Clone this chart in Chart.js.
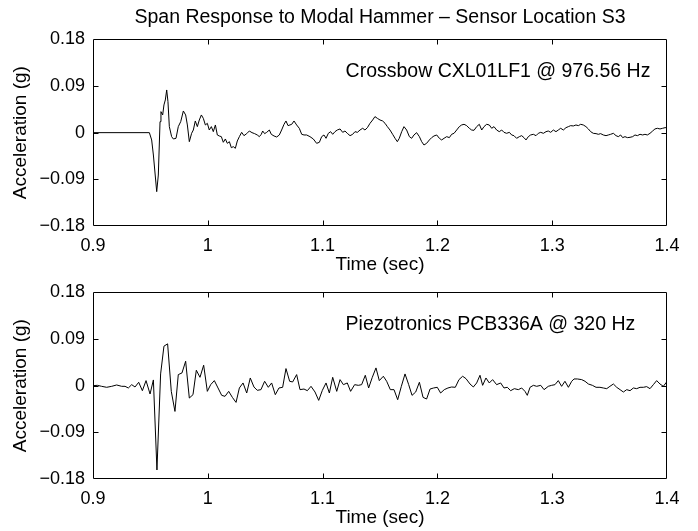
<!DOCTYPE html>
<html><head><meta charset="utf-8">
<script src="https://cdn.jsdelivr.net/npm/chart.js@4/dist/chart.umd.min.js"></script>
<style>
html,body{margin:0;padding:0;background:#fff;}
#wrap{position:relative;width:698px;height:531px;overflow:hidden;}
canvas{position:absolute;left:0;top:0;}
</style></head><body>
<div id="wrap"><canvas id="c1" width="698" height="531"></canvas><canvas id="c2" width="698" height="531"></canvas></div>
<script>
const chartTitle = 'Span Response to Modal Hammer \u2013 Sensor Location S3';
const xAxisTitle = 'Time (sec)';
const yAxisTitle = 'Acceleration (g)';
const xTicks = [0.9, 1.0, 1.1, 1.2, 1.3, 1.4];
const xTickLabels = ['0.9', '1', '1.1', '1.2', '1.3', '1.4'];
const yTicks = [-0.18, -0.09, 0, 0.09, 0.18];
const yTickLabels = ['\u22120.18', '\u22120.09', '0', '0.09', '0.18'];
const topLabel = 'Crossbow CXL01LF1 @ 976.56 Hz';
const bottomLabel = 'Piezotronics PCB336A @ 320 Hz';

// Top sensor: Crossbow CXL01LF1 (time in s, acceleration in g)
const topTime = [
0.9000,0.9491,0.9511,0.9526,0.9555,0.9569,0.9584,0.9592,0.9607,0.9618,0.9630,0.9642,0.9653,0.9665,0.9685,0.9700,0.9723,0.9743,0.9764,0.9787,
0.9807,0.9822,0.9839,0.9859,0.9874,0.9891,0.9909,0.9926,0.9944,0.9961,0.9979,0.9996,1.0013,1.0031,1.0048,1.0066,1.0083,1.0100,1.0118,1.0135,
1.0153,1.0170,1.0188,1.0205,1.0222,1.0240,1.0257,1.0275,1.0295,1.0315,1.0339,1.0362,1.0385,1.0408,1.0431,1.0449,1.0466,1.0478,1.0495,1.0513,
1.0536,1.0553,1.0577,1.0600,1.0623,1.0643,1.0664,1.0681,1.0699,
1.0731,1.0751,1.0774,1.0797,1.0818,1.0838,1.0861,1.0890,1.0919,1.0948,1.0972,1.0992,1.1012,1.1030,1.1050,1.1070,1.1088,1.1108,1.1128,1.1152,
1.1175,1.1195,1.1215,1.1239,1.1262,1.1282,1.1303,1.1326,1.1349,1.1369,1.1390,1.1413,1.1436,1.1456,1.1477,1.1500,1.1523,1.1544,1.1564,1.1587,
1.1610,1.1631,1.1651,1.1668,1.1689,1.1709,1.1732,1.1756,1.1776,1.1796,1.1819,1.1843,1.1863,1.1883,1.1906,1.1930,1.1950,1.1970,1.1994,1.2017,
1.2037,1.2058,1.2081,1.2104,1.2124,1.2145,1.2168,1.2191,1.2211,1.2232,1.2255,1.2278,1.2298,1.2319,1.2342,1.2365,
1.2386,1.2406,1.2429,1.2452,1.2473,1.2493,1.2516,1.2539,1.2560,1.2580,1.2603,1.2627,1.2647,1.2667,1.2690,1.2714,1.2734,1.2754,1.2772,1.2792,
1.2812,1.2836,1.2859,1.2879,1.2900,1.2923,1.2946,1.2966,1.2987,1.3010,1.3033,1.3053,1.3074,1.3097,1.3120,1.3141,1.3161,1.3184,1.3207,1.3228,
1.3248,1.3271,1.3294,1.3315,1.3335,1.3358,1.3382,1.3402,1.3422,1.3445,1.3469,1.3489,1.3509,1.3533,1.3556,1.3576,1.3596,1.3614,1.3634,1.3655,
1.3678,1.3701,1.3721,1.3742,1.3765,1.3788,1.3808,1.3829,1.3852,1.3875,1.3895,1.3916,1.3939,1.3962,1.3983,1.4000
];
const topAccel = [
0,0,-0.0141,-0.0431,-0.1138,-0.0817,0.0212,0.0405,0.0341,0.0534,0.0630,0.0823,0.0598,0.0116,-0.0077,-0.0122,-0.0109,0.0116,0.0212,0.0418,
0.0341,0.0148,-0.0174,-0.0013,0.0051,0.0225,0.0116,0.0244,0.0341,0.0276,0.0148,0.0180,0.0051,0.0116,0.0019,0.0148,-0.0045,-0.0064,-0.0077,-0.0186,
-0.0122,-0.0206,-0.0174,-0.0290,-0.0270,-0.0302,-0.0161,-0.0077,0.0006,-0.0058,-0.0019,0.0032,0,-0.0019,-0.0045,-0.0077,-0.0032,0.0032,-0.0019,0.0006,
0.0051,-0.0032,-0.0064,-0.0084,-0.0045,0.0051,0.0161,0.0225,0.0135,
0.0161,0.0225,0.0148,0.0084,-0.0032,-0.0045,-0.0045,-0.0077,-0.0122,-0.0206,-0.0186,-0.0077,-0.0045,-0.0109,-0.0013,0.0019,-0.0032,0.0019,0.0051,0.0071,
0.0006,0.0032,-0.0013,-0.0058,-0.0032,0.0019,0.0006,0.0051,0.0084,0.0051,0.0096,0.0180,0.0244,0.0309,0.0276,0.0244,0.0225,0.0180,0.0116,0.0051,
-0.0032,-0.0109,-0.0174,-0.0109,0.0019,0.0116,0.0051,-0.0077,-0.0109,-0.0045,0,-0.0077,-0.0174,-0.0238,-0.0206,-0.0141,-0.0096,-0.0064,-0.0045,-0.0109,
-0.0141,-0.0109,-0.0077,-0.0096,-0.0032,-0.0013,0.0051,0.0116,0.0148,0.0161,0.0135,0.0084,0.0051,0.0045,0.0116,0.0161,
0.0051,0.0116,0.0161,0.0148,0.0084,0.0116,0.0051,0.0019,0.0051,0.0006,-0.0013,0.0006,-0.0045,-0.0058,-0.0109,-0.0077,-0.0058,-0.0096,-0.0141,-0.0077,
-0.0045,-0.0032,-0.0058,-0.0013,0.0006,-0.0013,0.0019,0.0032,0.0006,0.0051,0.0019,0.0051,0.0084,0.0051,0.0096,0.0116,0.0135,0.0129,0.0148,0.0135,
0.0161,0.0148,0.0116,0.0071,0.0019,-0.0013,-0.0019,-0.0032,-0.0019,-0.0045,-0.0058,-0.0045,-0.0032,-0.0013,-0.0058,-0.0077,-0.0045,-0.0096,-0.0077,-0.0096,
-0.0090,-0.0077,-0.0045,-0.0058,-0.0032,-0.0045,-0.0032,-0.0045,-0.0013,0.0032,0.0071,0.0084,0.0071,0.0084,0.0096,0.0096
];

// Bottom sensor: Piezotronics PCB336A (time in s, acceleration in g)
const bottomTime = [
0.9000,0.9038,0.9075,0.9119,0.9163,0.9206,0.9250,0.9279,0.9308,0.9337,0.9366,0.9398,0.9430,0.9462,0.9497,0.9526,0.9557,0.9589,0.9618,0.9650,
0.9682,0.9714,0.9743,0.9775,0.9807,0.9839,0.9871,0.9900,0.9932,0.9964,0.9996,1.0025,1.0057,1.0089,1.0121,1.0150,1.0182,1.0214,1.0246,1.0275,
1.0307,1.0339,1.0370,1.0402,1.0431,1.0463,1.0495,1.0527,1.0556,1.0588,1.0620,1.0652,1.0681,1.0713,
1.0739,1.0774,1.0803,1.0838,1.0867,1.0899,1.0934,1.0966,1.0998,1.1030,1.1059,1.1088,1.1123,1.1152,1.1181,1.1215,1.1244,1.1279,1.1311,1.1340,
1.1372,1.1401,1.1433,1.1465,1.1494,1.1529,1.1558,1.1590,1.1622,1.1654,1.1686,1.1718,1.1750,1.1779,1.1811,1.1843,1.1875,1.1906,1.1936,1.1967,
1.1999,1.2028,1.2060,1.2092,1.2124,1.2156,1.2188,1.2220,1.2249,1.2284,1.2313,1.2342,1.2371,
1.2394,1.2423,1.2452,1.2481,1.2516,1.2551,1.2580,1.2609,1.2638,1.2670,1.2705,1.2734,1.2763,1.2783,1.2807,1.2836,1.2865,1.2900,1.2929,1.2966,
1.2995,1.3024,1.3053,1.3082,1.3111,1.3141,1.3170,1.3190,1.3219,1.3257,1.3286,1.3315,1.3350,1.3382,1.3416,1.3445,1.3475,1.3503,1.3533,1.3562,
1.3591,1.3620,1.3649,1.3678,1.3707,1.3736,1.3765,1.3794,1.3823,1.3852,1.3881,1.3910,1.3939,1.3968,1.3997
];
const bottomAccel = [
0,0.0006,-0.0013,-0.0032,-0.0013,0.0013,-0.0013,-0.0013,-0.0045,0.0019,-0.0026,0.0065,-0.0097,0.0097,-0.0161,0.0110,-0.1626,0.0226,0.0761,0.0806,
-0.0110,-0.0497,0.0213,0.0245,0.0471,-0.0239,-0.0174,0.0297,0.0161,0.0394,-0.0110,0.0019,0.0097,-0.0045,-0.0187,-0.0206,-0.0110,-0.0226,-0.0323,-0.0045,
0.0052,-0.0142,0.0148,-0.0026,-0.0090,-0.0077,0.0084,-0.0032,0.0052,-0.0174,-0.0045,-0.0032,0.0329,0.0084,
0.0071,0.0213,-0.0077,-0.0065,-0.0097,-0.0013,-0.0123,-0.0284,-0.0090,0.0052,-0.0142,0.0161,-0.0110,0.0116,0.0019,0.0052,-0.0110,0.0019,0.0006,0.0019,
0.0200,-0.0045,0.0161,0.0342,0.0097,0.0181,0.0084,-0.0077,-0.0077,-0.0271,-0.0013,0.0226,0.0019,-0.0187,-0.0123,0.0065,-0.0226,-0.0258,-0.0065,-0.0045,
-0.0032,-0.0142,-0.0077,-0.0045,-0.0026,-0.0032,0.0116,0.0181,0.0135,0.0032,-0.0026,0.0052,0.0200,
0.0006,0.0148,0.0052,0.0116,0.0019,0.0052,-0.0045,-0.0032,-0.0097,-0.0058,-0.0077,-0.0045,-0.0110,-0.0187,-0.0032,0.0006,-0.0013,0.0006,-0.0077,-0.0013,
0.0006,0.0019,0.0097,-0.0013,0.0084,-0.0032,0.0084,0.0129,0.0129,0.0116,0.0084,0.0032,0.0006,-0.0032,-0.0032,-0.0045,-0.0058,-0.0013,0.0032,-0.0032,
-0.0077,-0.0123,-0.0077,-0.0097,-0.0045,-0.0058,-0.0032,-0.0032,-0.0019,-0.0058,0.0019,0.0097,0.0032,-0.0013,0.0071
];

const FONT = '"Liberation Sans", Arial, Helvetica, sans-serif';
Chart.defaults.font.family = FONT;
Chart.defaults.color = '#000';

const boxPlugin = {
  id: 'mbox',
  afterDraw(chart, args, opts) {
    const {ctx, chartArea: a, scales: {x, y}} = chart;
    const L = Math.round(a.left) + 0.5, R = Math.round(a.right) - 0.5;
    const T = Math.round(a.top) + 0.5, B = Math.round(a.bottom) - 0.5;
    ctx.save();
    ctx.strokeStyle = '#000';
    ctx.lineWidth = 1;
    ctx.beginPath();
    ctx.rect(L, T, R - L, B - T);
    const tl = 5;
    xTicks.forEach(v => {
      const px = Math.round(x.getPixelForValue(v)) + 0.5;
      if (px <= L + 1 || px >= R - 1) return;
      ctx.moveTo(px, B); ctx.lineTo(px, B - tl);
      ctx.moveTo(px, T); ctx.lineTo(px, T + tl);
    });
    yTicks.forEach(v => {
      const py = Math.round(y.getPixelForValue(v)) + 0.5;
      if (py <= T + 1 || py >= B - 1) return;
      ctx.moveTo(L, py); ctx.lineTo(L + tl, py);
      ctx.moveTo(R, py); ctx.lineTo(R - tl, py);
    });
    ctx.stroke();
    if (opts.text) {
      ctx.fillStyle = '#000';
      ctx.font = '19.5px ' + FONT;
      ctx.textAlign = 'left';
      ctx.textBaseline = 'alphabetic';
      ctx.fillText(opts.text, x.getPixelForValue(opts.tx), y.getPixelForValue(opts.ty));
    }
    ctx.restore();
  }
};

function makeChart(id, times, accel, cfg) {
  const data = times.map((t, i) => ({x: t, y: accel[i]}));
  return new Chart(document.getElementById(id), {
    type: 'line',
    data: {datasets: [{data, borderColor: '#000', borderWidth: 1, pointRadius: 0, fill: false, tension: 0}]},
    plugins: [boxPlugin],
    options: {
      responsive: false, animation: false, devicePixelRatio: 1,
      layout: {padding: cfg.padding},
      plugins: {
        legend: {display: false}, tooltip: {enabled: false},
        title: cfg.title,
        mbox: {text: cfg.label, tx: 1.12, ty: 0.107}
      },
      scales: {
        x: {
          type: 'linear', min: 0.9, max: 1.4,
          grid: {display: false, drawTicks: false}, border: {display: false},
          afterBuildTicks: s => { s.ticks = xTicks.map(v => ({value: v})); },
          afterFit: s => { s.height = cfg.xHeight; },
          ticks: {autoSkip: false, maxRotation: 0, padding: 9.2, color: '#000', font: {size: 18, lineHeight: 1.2},
                  callback: (v, i) => xTickLabels[i]},
          title: {display: true, text: xAxisTitle, color: '#000', font: {size: 19, lineHeight: 1.2}, padding: {top: 0, bottom: cfg.xTitlePad}}
        },
        y: {
          type: 'linear', min: -0.18, max: 0.18,
          grid: {display: false, drawTicks: false}, border: {display: false},
          afterBuildTicks: s => { s.ticks = yTicks.map(v => ({value: v})); },
          afterFit: s => { s.width = 93; },
          ticks: {autoSkip: false, padding: 8, color: '#000', font: {size: 18, lineHeight: 1.2},
                  callback: (v, i) => yTickLabels[i]},
          title: {display: true, text: yAxisTitle, color: '#000', font: {size: 19, lineHeight: 1.2}, padding: {top: 9.6, bottom: 0}}
        }
      }
    }
  });
}

makeChart('c1', topTime, topAccel, {
  padding: {left: 0, right: 31, top: 0, bottom: 245},
  xHeight: 60, xTitlePad: 9.8, label: topLabel,
  title: {display: true, text: chartTitle, fullSize: false, color: '#000',
          font: {size: 19.5, weight: 'normal', lineHeight: 1.2}, padding: {top: 5.5, bottom: 10.4}}
});
makeChart('c2', bottomTime, bottomAccel, {
  padding: {left: 0, right: 31, top: 292.3, bottom: 0},
  xHeight: 52, xTitlePad: 1.8, label: bottomLabel,
  title: {display: false}
});
</script>
</body></html>
